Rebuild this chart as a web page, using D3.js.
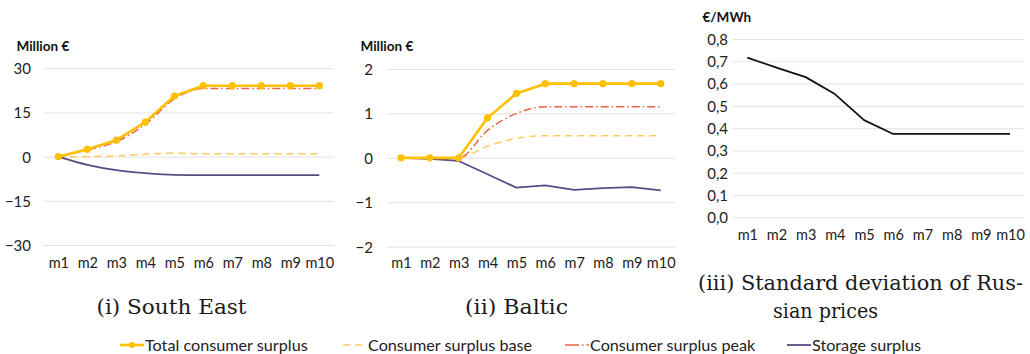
<!DOCTYPE html>
<html>
<head>
<meta charset="utf-8">
<script src="https://cdn.jsdelivr.net/npm/d3@7"></script>
<style>
  html, body { margin: 0; padding: 0; background: #fff; }
  svg { display: block; }
  .sans { font-family: Lato, "Noto Sans", sans-serif; }
  .serif { font-family: "DejaVu Serif", "Liberation Serif", serif; }
</style>
</head>
<body>
<svg id="chart" width="1030" height="354"></svg>
<script>
// Categories shared by all three panels
const months = ["m1", "m2", "m3", "m4", "m5", "m6", "m7", "m8", "m9", "m10"];

// (i) South East, million €
const seTotal   = [0, 2.5, 5.6, 11.7, 20.6, 24.1, 24.1, 24.1, 24.1, 24.1];
const seBase    = [0, 0.0, 0.3, 0.8, 1.2, 1.0, 1.0, 1.0, 1.0, 1.0];
const sePeak    = [0, 2.3, 5.1, 11.0, 19.6, 23.1, 23.1, 23.1, 23.1, 23.1];
const seStorage = [0, -2.8, -4.6, -5.6, -6.2, -6.3, -6.3, -6.3, -6.3, -6.3];
const seTicks   = [-30, -15, 0, 15, 30];

// (ii) Baltic, million €
const baTotal   = [0, 0, 0, 0.90, 1.45, 1.67, 1.67, 1.67, 1.67, 1.67];
const baBase    = [0, 0, 0, 0.26, 0.44, 0.50, 0.50, 0.50, 0.50, 0.50];
const baPeak    = [0, 0, 0, 0.62, 1.00, 1.15, 1.15, 1.15, 1.15, 1.15];
const baStorage = [0, -0.02, -0.07, -0.37, -0.67, -0.62, -0.72, -0.68, -0.66, -0.73];
const baTicks   = [-2, -1, 0, 1, 2];

// (iii) Standard deviation of Russian prices, €/MWh
const ruStd     = [0.716, 0.672, 0.629, 0.553, 0.436, 0.374, 0.374, 0.374, 0.374, 0.374];
const ruTicks   = [0, 0.1, 0.2, 0.3, 0.4, 0.5, 0.6, 0.7, 0.8];

const seriesNames = ["Total consumer surplus", "Consumer surplus base", "Consumer surplus peak", "Storage surplus"];

const styles = {
  total:   { color: "#FFC000", width: 2.6, dash: null },
  base:    { color: "#FFCB5C", width: 1.5, dash: "7,5" },
  peak:    { color: "#E8644E", width: 1.5, dash: "8,3,1.5,3" },
  storage: { color: "#5E4A82", width: 1.8, dash: null },
  std:     { color: "#111111", width: 1.8, dash: null }
};

const svg = d3.select("#chart");

function panel(cfg) {
  const g = svg.append("g");
  const x = d3.scalePoint().domain(months).range(cfg.xRange);
  const y = d3.scaleLinear().domain(cfg.yDomain).range(cfg.yRange);

  // horizontal gridlines with value labels
  const yAxis = d3.axisLeft(y).tickValues(cfg.ticks)
    .tickSize(-(cfg.gridX[1] - cfg.gridX[0]))
    .tickPadding(cfg.gridX[0] - cfg.labelRight)
    .tickFormat(cfg.fmt);
  const ya = g.append("g").attr("transform", `translate(${cfg.gridX[0]},0)`).call(yAxis);
  ya.select(".domain").remove();
  ya.selectAll(".tick line").attr("stroke", "#E3E3E3").attr("stroke-width", 1);
  ya.selectAll(".tick text").attr("class", "sans").attr("font-size", 15).attr("fill", "#222")
    .attr("dy", "0.36em");

  // category labels
  const xAxis = d3.axisBottom(x).tickSize(0).tickPadding(0);
  const xa = g.append("g").attr("transform", `translate(0,${cfg.xLabelY})`).call(xAxis);
  xa.select(".domain").remove();
  xa.selectAll(".tick text").attr("class", "sans").attr("font-size", 14.5).attr("fill", "#222")
    .attr("dy", 0);

  // unit title
  g.append("text").attr("class", "sans").attr("x", cfg.unitX).attr("y", cfg.unitY)
    .attr("font-size", 13.5).attr("font-weight", "bold").attr("fill", "#111").text(cfg.unit);

  const smooth = d3.line().x((d, i) => x(months[i])).y(d => y(d)).curve(d3.curveMonotoneX);
  const straight = d3.line().x((d, i) => x(months[i])).y(d => y(d));

  cfg.series.forEach(s => {
    const st = styles[s.style];
    g.append("path").datum(s.values)
      .attr("d", s.smooth ? smooth : straight)
      .attr("fill", "none").attr("stroke", st.color).attr("stroke-width", st.width)
      .attr("stroke-dasharray", st.dash).attr("stroke-linejoin", "round").attr("stroke-linecap", "butt");
    if (s.markers) {
      g.selectAll(null).data(s.values).enter().append("circle")
        .attr("cx", (d, i) => x(months[i])).attr("cy", d => y(d)).attr("r", 3.6)
        .attr("fill", st.color);
    }
  });
}

const fmtInt = d => d3.format("d")(d);
const fmtComma = d => d3.format(".1f")(d).replace(".", ",");

panel({
  xRange: [58.3, 319.3], gridX: [43.5, 334], yDomain: [-30, 30], yRange: [245, 68.3],
  ticks: seTicks, fmt: fmtInt, labelRight: 31, xLabelY: 267.5,
  unit: "Million €", unitX: 16.5, unitY: 50.5,
  series: [
    { values: seBase, style: "base", smooth: true },
    { values: sePeak, style: "peak", smooth: true },
    { values: seStorage, style: "storage", smooth: true },
    { values: seTotal, style: "total", markers: true }
  ]
});

panel({
  xRange: [401, 660.7], gridX: [386.7, 675], yDomain: [-2, 2], yRange: [246.7, 69],
  ticks: baTicks, fmt: fmtInt, labelRight: 373, xLabelY: 267.5,
  unit: "Million €", unitX: 360.5, unitY: 50.5,
  series: [
    { values: baBase, style: "base", smooth: true },
    { values: baPeak, style: "peak", smooth: true },
    { values: baStorage, style: "storage" },
    { values: baTotal, style: "total", markers: true }
  ]
});

panel({
  xRange: [747.3, 1010], gridX: [732.7, 1024], yDomain: [0, 0.8], yRange: [217.3, 39],
  ticks: ruTicks, fmt: fmtComma, labelRight: 728, xLabelY: 240,
  unit: "€/MWh", unitX: 702.5, unitY: 21.5,
  series: [
    { values: ruStd, style: "std" }
  ]
});

// sub-figure captions
const captions = [
  { text: "(i) South East", x: 96.5, y: 314, w: 150 },
  { text: "(ii) Baltic", x: 465, y: 314, w: 103 },
  { text: "(iii) Standard deviation of Rus-", x: 698, y: 290, w: 325 },
  { text: "sian prices", x: 773, y: 317.5, w: 105 }
];
svg.selectAll(".caption").data(captions).enter().append("text")
  .attr("class", "serif caption").attr("x", d => d.x).attr("y", d => d.y)
  .attr("font-size", 20).attr("fill", "#1a1a1a")
  .attr("textLength", d => d.w).attr("lengthAdjust", "spacingAndGlyphs")
  .text(d => d.text);

// legend
const legendItems = [
  { name: seriesNames[0], style: "total", x: 120, marker: true },
  { name: seriesNames[1], style: "base", x: 343 },
  { name: seriesNames[2], style: "peak", x: 565 },
  { name: seriesNames[3], style: "storage", x: 787 }
];
const ly = 345;
const lg = svg.append("g");
legendItems.forEach(it => {
  const st = styles[it.style];
  lg.append("line").attr("x1", it.x).attr("x2", it.x + 24).attr("y1", ly).attr("y2", ly)
    .attr("stroke", st.color).attr("stroke-width", st.width)
    .attr("stroke-dasharray", it.style === "base" ? "7,5" : it.style === "peak" ? "14,3,1.5,3" : null);
  if (it.marker) {
    lg.append("circle").attr("cx", it.x + 12).attr("cy", ly).attr("r", 3).attr("fill", st.color);
  }
  lg.append("text").attr("class", "sans").attr("x", it.x + 25).attr("y", ly).attr("dy", "0.35em")
    .attr("font-size", 16.2).attr("fill", "#222").text(it.name);
});
</script>
</body>
</html>
